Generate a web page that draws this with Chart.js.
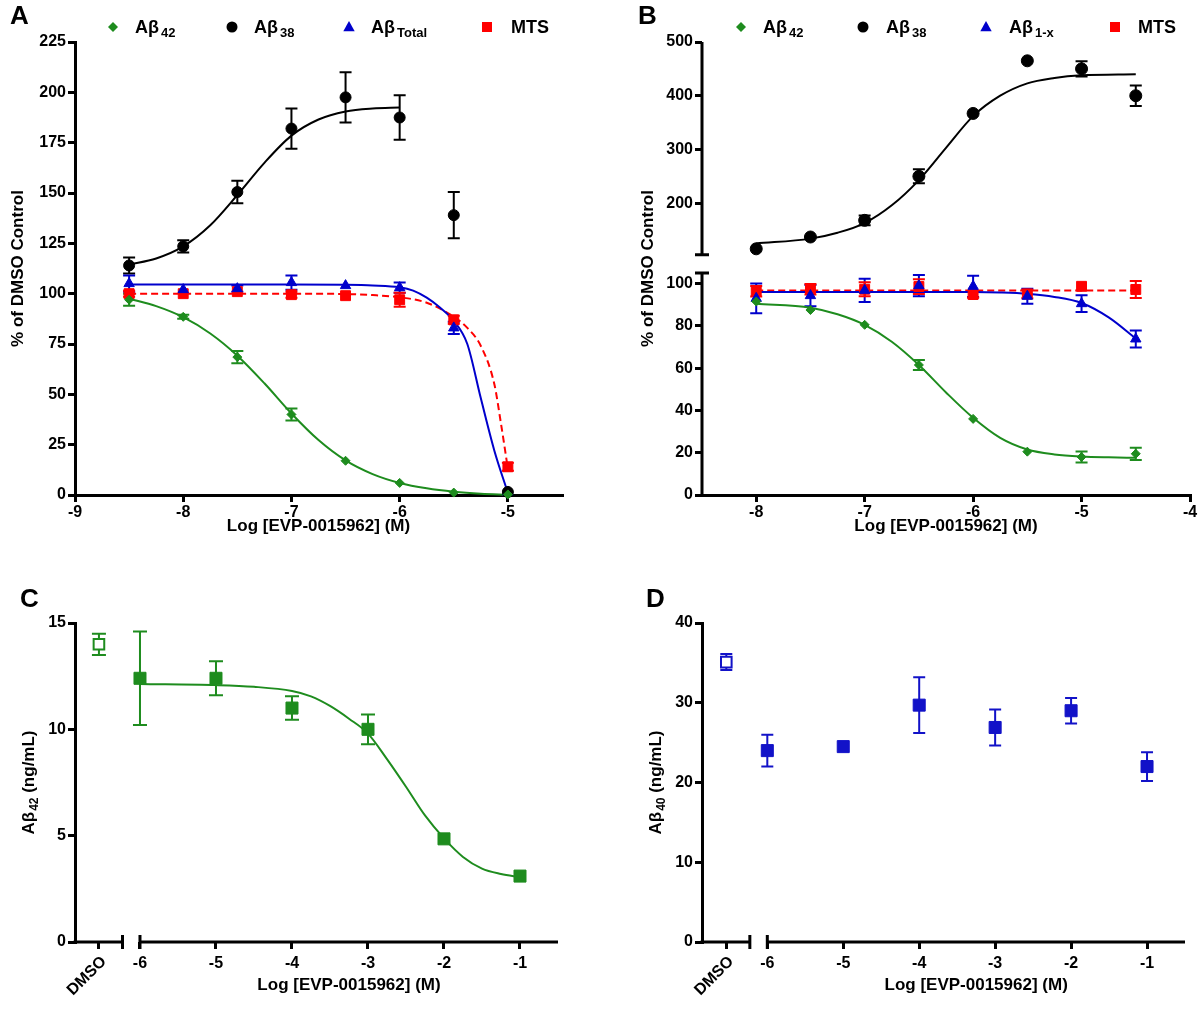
<!DOCTYPE html>
<html><head><meta charset="utf-8">
<script src="https://cdn.jsdelivr.net/npm/chart.js@4.4.1/dist/chart.umd.min.js"></script>
<style>
html,body{margin:0;padding:0;background:#fff;}
#wrap{position:relative;width:1200px;height:1011px;overflow:hidden;}
canvas{position:absolute;}
</style></head><body>
<div id="wrap">
<canvas id="cA" width="600" height="545" style="left:0;top:0"></canvas>
<canvas id="cB" width="600" height="545" style="left:600px;top:0"></canvas>
<canvas id="cC" width="600" height="451" style="left:0;top:560px"></canvas>
<canvas id="cD" width="600" height="451" style="left:600px;top:560px"></canvas>
</div>
<script>
// ---------------- DATA ----------------
// Panel A
const doseA   = [-8.5, -8, -7.5, -7, -6.5, -6, -5.5, -5];
const a42     = [97, 88.5, 68.5, 40, 17, 6, 1.2, 0.3];
const a42Err  = [3, 1, 3, 3, 0, 0, 0, 0];
const a38     = [114, 123.5, 150.5, 182, 197.5, 187.5, 139, 1.5];
const a38Err  = [4, 3, 5.6, 10, 12.5, 11, 11.5, 0];
const aTot    = [105, 102, 102.5, 105.5, 104, 103, 83, 1.5];
const aTotErr = [4, 0, 1.5, 3.5, 0, 2.5, 3, 0];
const aMts    = [100, 100, 101, 99.5, 99, 97, 87, 14];
const aMtsErr = [1.5, 0, 0, 1.5, 0, 3.5, 2, 2];
const fitA42X  = [-8.5, -8.25, -8, -7.75, -7.5, -7.25, -7, -6.75, -6.5, -6.25, -6, -5.75, -5.5, -5.25, -5];
const fitA42Y  = [97.5, 93.8, 88.3, 80.2, 69.2, 55.5, 40.5, 27.3, 17.2, 10.4, 6.0, 3.3, 1.6, 0.6, 0.1];
const fitA38X  = [-8.5, -8.25, -8, -7.75, -7.5, -7.25, -7, -6.75, -6.5, -6.25, -6];
const fitA38Y  = [114.5, 117.5, 123.5, 134, 149, 165, 178.5, 186.5, 190.5, 192, 192.5];
const fitATotX = [-8.5, -7, -6.5, -6.25, -6, -5.875, -5.75, -5.625, -5.5, -5.375, -5.25, -5.125, -5];
const fitATotY = [104.5, 104.5, 104.4, 104.1, 103.2, 101.5, 98, 93, 86.5, 75, 48, 22, 1];
const fitAMtsX = [-8.5, -7, -6.5, -6.25, -6, -5.75, -5.5, -5.375, -5.25, -5.125, -5.0625, -5];
const fitAMtsY = [100, 100, 99.8, 99.3, 98.2, 95.5, 88.5, 83, 74, 55, 35, 13];
const ticksAX = [-9, -8, -7, -6, -5];
const ticksAY = [0, 25, 50, 75, 100, 125, 150, 175, 200, 225];

// Panel B
const doseB   = [-8, -7.5, -7, -6.5, -6, -5.5, -5, -4.5];
const b42     = [91.5, 87.5, 80.5, 61.5, 36, 20.5, 18, 19.5];
const b42Err  = [0, 0, 0, 2.4, 0, 0, 2.6, 2.9];
const b38     = [115, 137, 168, 250, 367, 465, 450, 400];
const b38Err  = [0, 0, 9, 13, 0, 0, 14, 19];
const b1x     = [93, 94.3, 96.8, 99, 98.7, 94, 90.5, 73.8];
const b1xErr  = [7, 5, 5.5, 5, 5, 3.5, 4, 4];
const bMts    = [96.4, 97.3, 97.3, 98.6, 94.8, 95.1, 98.7, 97.2];
const bMtsErr = [2.5, 2.5, 3.3, 3.5, 1.5, 2, 0, 4];
const fitB42X  = [-8, -7.5, -7.25, -7, -6.75, -6.5, -6.25, -6, -5.75, -5.5, -5.25, -5, -4.75, -4.5];
const fitB42Y  = [90.5, 88.6, 85.5, 80.5, 72.5, 61.5, 48.5, 36.5, 27, 21.5, 19.2, 18.2, 17.8, 17.6];
const fitB38X  = [-8, -7.5, -7.25, -7, -6.75, -6.5, -6.25, -6, -5.75, -5.5, -5.25, -5, -4.5];
const fitB38Y  = [125, 134, 145, 163, 196, 243, 303, 362, 400, 423, 433, 438, 440];
const fitB1xX  = [-8, -6, -5.75, -5.5, -5.25, -5, -4.75, -4.5];
const fitB1xY  = [96, 96, 95.8, 95.2, 93.7, 90.8, 84, 74];
const fitBMtsX = [-8, -4.5];
const fitBMtsY = [96.7, 96.7];
const ticksBX  = [-8, -7, -6, -5, -4];
const ticksBYlow  = [0, 20, 40, 60, 80, 100];
const ticksBYhigh = [200, 300, 400, 500];

// Panel C
const doseC   = [-6, -5, -4, -3, -2, -1];
const c42     = [12.4, 12.4, 11.0, 10.0, 4.85, 3.1];
const c42Err  = [2.2, 0.8, 0.55, 0.7, 0, 0];
const cDmso   = [14.0];
const cDmsoErr= [0.5];
const fitC42X = [-6, -5, -4.5, -4, -3.75, -3.5, -3.25, -3, -2.75, -2.5, -2.25, -2, -1.75, -1.5, -1.25, -1];
const fitC42Y = [12.13, 12.08, 12.0, 11.8, 11.55, 11.1, 10.5, 9.8, 8.6, 7.3, 5.95, 4.87, 4.0, 3.45, 3.2, 3.05];
const ticksCY = [0, 5, 10, 15];

// Panel D
const doseD   = [-6, -5, -4, -3, -2, -1];
const d40     = [24, 24.5, 29.7, 26.9, 29, 22];
const d40Err  = [2, 0, 3.5, 2.25, 1.6, 1.8];
const dDmso   = [35.1];
const dDmsoErr= [1];
const ticksDY = [0, 10, 20, 30, 40];

const ticksCDX = [-6, -5, -4, -3, -2, -1];

// ---------------- LAYOUT / STYLE ----------------
const FAM = '"Liberation Sans", Arial, sans-serif';
const tickFont = {family: FAM, weight: 'bold', size: 16};
const GREEN = '#1e8c1e', BLUE = '#0000cc', RED = '#ff0000', BLACK = '#000000', DBLUE = '#1212c8';
const DMSO_POS = -6.54;   // layout position of the DMSO category on the broken x axis
const BREAK_L = -6.23, BREAK_R = -6.0;

function pts(xs, ys) { return xs.map((x, i) => ({x: x, y: ys[i]})); }
function fixedTicks(vals) { return function(axis) { axis.ticks = vals.map(v => ({value: v})); }; }
function fixW(w) { return function(axis) { axis.width = w; }; }
function fixH(h) { return function(axis) { axis.height = h; }; }

function markerDS(label, xs, ys, errs, color, style, r, extra) {
  return Object.assign({
    label: label, data: pts(xs, ys), errors: errs,
    pointStyle: style, pointRadius: r, pointHoverRadius: r,
    backgroundColor: color, borderColor: color, pointBorderWidth: 1,
    showLine: false, clip: false
  }, extra || {});
}
function curveDS(xs, ys, color, dash, yAxisID) {
  const d = {
    data: pts(xs, ys), showLine: true, pointRadius: 0, pointHoverRadius: 0,
    borderColor: color, backgroundColor: color, borderWidth: 2,
    cubicInterpolationMode: 'monotone', borderDash: dash || [], fill: false, clip: false
  };
  if (yAxisID) d.yAxisID = yAxisID;
  return d;
}

const errorBarPlugin = {
  id: 'errorBars',
  beforeDatasetsDraw(chart) {
    const ctx = chart.ctx;
    chart.data.datasets.forEach((ds, i) => {
      if (!ds.errors) return;
      const meta = chart.getDatasetMeta(i);
      const xs = chart.scales[meta.xAxisID], ys = chart.scales[meta.yAxisID];
      const cap = ds.capHalf || 6;
      ctx.save();
      ctx.strokeStyle = ds.borderColor;
      ctx.lineWidth = 2;
      ds.data.forEach((p, j) => {
        const e = ds.errors[j];
        if (!e) return;
        const x = xs.getPixelForValue(p.x);
        const y1 = ys.getPixelForValue(p.y + e), y2 = ys.getPixelForValue(p.y - e);
        ctx.beginPath();
        ctx.moveTo(x, y1); ctx.lineTo(x, y2);
        ctx.moveTo(x - cap, y1); ctx.lineTo(x + cap, y1);
        ctx.moveTo(x - cap, y2); ctx.lineTo(x + cap, y2);
        ctx.stroke();
      });
      ctx.restore();
    });
  }
};

function drawParts(ctx, parts, x, y, rot, center) {
  ctx.save();
  ctx.translate(x, y);
  if (rot) ctx.rotate(rot);
  ctx.fillStyle = '#000';
  ctx.textBaseline = 'alphabetic';
  ctx.textAlign = 'left';
  let w = 0;
  parts.forEach(p => { ctx.font = p.f; w += ctx.measureText(p.t).width + (p.gap || 0); });
  let cx = center ? -w / 2 : 0;
  parts.forEach(p => { ctx.font = p.f; cx += (p.gap || 0); ctx.fillText(p.t, cx, p.dy || 0); cx += ctx.measureText(p.t).width; });
  ctx.restore();
}
const F = (s) => 'bold ' + s + 'px ' + FAM;

function marker(ctx, type, x, y, color, r) {
  ctx.save();
  ctx.fillStyle = color; ctx.strokeStyle = color;
  ctx.beginPath();
  if (type === 'diamond') { ctx.moveTo(x, y - r); ctx.lineTo(x + r, y); ctx.lineTo(x, y + r); ctx.lineTo(x - r, y); ctx.closePath(); }
  else if (type === 'circle') { ctx.arc(x, y, r, 0, Math.PI * 2); }
  else if (type === 'triangle') { ctx.moveTo(x, y - r); ctx.lineTo(x + r * 0.95, y + r * 0.7); ctx.lineTo(x - r * 0.95, y + r * 0.7); ctx.closePath(); }
  else { ctx.rect(x - r, y - r, 2 * r, 2 * r); }
  ctx.fill();
  ctx.restore();
}
function legendItem(ctx, type, mx, color, r, tx, sub) {
  marker(ctx, type, mx, 27, color, r);
  const parts = [{t: 'A\u03B2', f: F(18)}, {t: sub, f: F(13), dy: 4, gap: 2}];
  drawParts(ctx, parts, tx, 33);
}
function legendPlain(ctx, type, mx, color, r, tx, label) {
  marker(ctx, type, mx, 27, color, r);
  drawParts(ctx, [{t: label, f: F(18)}], tx, 33);
}
function plainText(ctx, s, x, y, font, align, rot) {
  ctx.save();
  ctx.translate(x, y);
  if (rot) ctx.rotate(rot);
  ctx.font = font; ctx.fillStyle = '#000';
  ctx.textAlign = align || 'center'; ctx.textBaseline = 'middle';
  ctx.fillText(s, 0, 0);
  ctx.restore();
}

function yAxis(min, max, ticks, w, border, extra) {
  return Object.assign({
    type: 'linear', min: min, max: max,
    afterBuildTicks: fixedTicks(ticks), afterFit: fixW(w),
    border: {display: border, color: '#000', width: 3},
    grid: {drawOnChartArea: false, color: '#000', lineWidth: 3, tickLength: 7},
    ticks: {font: tickFont, color: '#000', padding: 2}
  }, extra || {});
}
function xAxis(min, max, ticks, h, border, pad, cb) {
  return {
    type: 'linear', min: min, max: max,
    afterBuildTicks: fixedTicks(ticks), afterFit: fixH(h),
    border: {display: border, color: '#000', width: 3},
    grid: {drawOnChartArea: false, color: '#000', lineWidth: 3, tickLength: 7},
    ticks: {font: tickFont, color: '#000', padding: pad, maxRotation: 0, autoSkip: false,
            callback: cb || function(v) { return String(v); }}
  };
}
const baseOpts = {
  responsive: false, animation: false, devicePixelRatio: 1,
  plugins: {legend: {display: false}, tooltip: {enabled: false}}
};

// ---------------- PANEL A ----------------
new Chart(document.getElementById('cA'), {
  type: 'scatter',
  data: {datasets: [
    markerDS('Aβ42', doseA, a42, a42Err, GREEN, 'rectRot', 4.5),
    markerDS('Aβ38', doseA, a38, a38Err, BLACK, 'circle', 5.5),
    markerDS('AβTotal', doseA, aTot, aTotErr, BLUE, 'triangle', 6),
    markerDS('MTS', doseA, aMts, aMtsErr, RED, 'rect', 7),
    curveDS(fitA42X, fitA42Y, GREEN),
    curveDS(fitA38X, fitA38Y, BLACK),
    curveDS(fitATotX, fitATotY, BLUE),
    curveDS(fitAMtsX, fitAMtsY, RED, [7, 4])
  ]},
  options: Object.assign({}, baseOpts, {
    layout: {padding: {left: 0, top: 42, right: 38, bottom: 10}},
    scales: {
      x: xAxis(-9, -4.5, ticksAX, 40, true, 1),
      y: yAxis(0, 225, ticksAY, 75, true)
    }
  }),
  plugins: [errorBarPlugin, {
    id: 'decorA',
    afterDraw(chart) {
      const ctx = chart.ctx;
      plainText(ctx, 'A', 10, 17, F(26), 'left');
      legendItem(ctx, 'diamond', 113, GREEN, 5, 135, '42');
      legendItem(ctx, 'circle', 232, BLACK, 5.5, 254, '38');
      legendItem(ctx, 'triangle', 349, BLUE, 6, 371, 'Total');
      legendPlain(ctx, 'square', 487, RED, 5, 511, 'MTS');
      const ca = chart.chartArea;
      plainText(ctx, 'Log [EVP-0015962] (M)', (ca.left + ca.right) / 2, 526, F(17));
      plainText(ctx, '% of DMSO Control', 18, (ca.top + ca.bottom) / 2, F(17), 'center', -Math.PI / 2);
    }
  }]
});

// ---------------- PANEL B ----------------
new Chart(document.getElementById('cB'), {
  type: 'scatter',
  data: {datasets: [
    markerDS('Aβ42', doseB, b42, b42Err, GREEN, 'rectRot', 4.5, {yAxisID: 'yBot'}),
    markerDS('Aβ38', doseB, b38, b38Err, BLACK, 'circle', 6, {yAxisID: 'yTop'}),
    markerDS('Aβ1-x', doseB, b1x, b1xErr, BLUE, 'triangle', 6, {yAxisID: 'yBot'}),
    markerDS('MTS', doseB, bMts, bMtsErr, RED, 'rect', 7, {yAxisID: 'yBot'}),
    curveDS(fitB42X, fitB42Y, GREEN, null, 'yBot'),
    curveDS(fitB38X, fitB38Y, BLACK, null, 'yTop'),
    curveDS(fitB1xX, fitB1xY, BLUE, null, 'yBot'),
    curveDS(fitBMtsX, fitBMtsY, RED, [7, 4], 'yBot')
  ]},
  options: Object.assign({}, baseOpts, {
    layout: {padding: {left: 0, top: 42, right: 10, bottom: 10}},
    scales: {
      x: xAxis(-8.5, -4, ticksBX, 40, true, 1),
      yBot: yAxis(0, 105, ticksBYlow, 102, false, {position: 'left', stack: 'B', stackWeight: 222}),
      yTop: yAxis(70, 500, ticksBYhigh, 102, false, {position: 'left', stack: 'B', stackWeight: 231})
    }
  }),
  plugins: [errorBarPlugin, {
    id: 'decorB',
    afterDraw(chart) {
      const ctx = chart.ctx;
      const ca = chart.chartArea;
      const yT = chart.scales.yTop, yB = chart.scales.yBot;
      const x = ca.left;
      ctx.save();
      ctx.strokeStyle = '#000'; ctx.lineWidth = 3;
      const t1 = yT.getPixelForValue(500), t2 = yT.getPixelForValue(104);
      const b1 = yB.getPixelForValue(105), b2 = yB.getPixelForValue(0);
      ctx.beginPath();
      ctx.moveTo(x, t1); ctx.lineTo(x, t2);
      ctx.moveTo(x - 7, t2); ctx.lineTo(x + 7, t2);
      ctx.moveTo(x, b1); ctx.lineTo(x, b2 + 1.5);
      ctx.moveTo(x - 7, b1); ctx.lineTo(x + 7, b1);
      ctx.stroke();
      ctx.restore();
      plainText(ctx, 'B', 38, 17, F(26), 'left');
      legendItem(ctx, 'diamond', 141, GREEN, 5, 163, '42');
      legendItem(ctx, 'circle', 263, BLACK, 5.5, 286, '38');
      legendItem(ctx, 'triangle', 386, BLUE, 6, 409, '1-x');
      legendPlain(ctx, 'square', 515, RED, 5, 538, 'MTS');
      plainText(ctx, 'Log [EVP-0015962] (M)', (ca.left + ca.right) / 2, 526, F(17));
      plainText(ctx, '% of DMSO Control', 48, (ca.top + ca.bottom) / 2, F(17), 'center', -Math.PI / 2);
    }
  }]
});

// ---------------- PANELS C & D ----------------
function brokenXPlugin(id, letter, ytitleSub, ytitleX) {
  return {
    id: id,
    afterDraw(chart) {
      const ctx = chart.ctx;
      const ca = chart.chartArea;
      const xs = chart.scales.x;
      const y = ca.bottom;
      const pL = xs.getPixelForValue(BREAK_L), pR = xs.getPixelForValue(BREAK_R);
      ctx.save();
      ctx.strokeStyle = '#000'; ctx.lineWidth = 3;
      ctx.beginPath();
      ctx.moveTo(ca.left - 1.5, y); ctx.lineTo(pL, y);
      ctx.moveTo(pL, y - 7); ctx.lineTo(pL, y + 7);
      ctx.moveTo(pR, y); ctx.lineTo(ca.right, y);
      ctx.moveTo(pR, y - 7); ctx.lineTo(pR, y + 7);
      ctx.stroke();
      ctx.restore();
      const dx = xs.getPixelForValue(DMSO_POS);
      plainText(ctx, 'DMSO', dx + 5, y + 17, F(16), 'right', -Math.PI / 4);
      plainText(ctx, letter, letter === 'C' ? 20 : 46, 40, F(26), 'left');
      plainText(ctx, 'Log [EVP-0015962] (M)', (pR + ca.right) / 2, 425, F(17));
      drawParts(ctx, [{t: 'A\u03B2', f: F(17)}, {t: ytitleSub, f: F(12), dy: 4, gap: 1}, {t: ' (ng/mL)', f: F(17)}],
                ytitleX, (ca.top + ca.bottom) / 2, -Math.PI / 2, true);
    }
  };
}
const xCB = function(v) { return v < -6.2 ? '' : String(v); };

new Chart(document.getElementById('cC'), {
  type: 'scatter',
  data: {datasets: [
    markerDS('DMSO', [DMSO_POS], cDmso, cDmsoErr, GREEN, 'rect', 7.5, {backgroundColor: '#fff', pointBorderWidth: 2, capHalf: 7}),
    markerDS('Aβ42', doseC, c42, c42Err, GREEN, 'rect', 8.5, {capHalf: 7}),
    curveDS(fitC42X, fitC42Y, GREEN)
  ]},
  options: Object.assign({}, baseOpts, {
    layout: {padding: {left: 0, top: 63, right: 42, bottom: 24}},
    scales: {
      x: xAxis(-6.855, -0.5, [DMSO_POS].concat(ticksCDX), 45, false, 5, xCB),
      y: yAxis(0, 15, ticksCY, 75, true)
    }
  }),
  plugins: [errorBarPlugin, brokenXPlugin('decorC', 'C', '42', 34)]
});

new Chart(document.getElementById('cD'), {
  type: 'scatter',
  data: {datasets: [
    markerDS('DMSO', [DMSO_POS], dDmso, dDmsoErr, DBLUE, 'rect', 7.5, {backgroundColor: '#fff', pointBorderWidth: 2, capHalf: 6}),
    markerDS('Aβ40', doseD, d40, d40Err, DBLUE, 'rect', 8.5, {capHalf: 6})
  ]},
  options: Object.assign({}, baseOpts, {
    layout: {padding: {left: 0, top: 63, right: 15, bottom: 24}},
    scales: {
      x: xAxis(-6.86, -0.5, [DMSO_POS].concat(ticksCDX), 45, false, 5, xCB),
      y: yAxis(0, 40, ticksDY, 102, true)
    }
  }),
  plugins: [errorBarPlugin, brokenXPlugin('decorD', 'D', '40', 61)]
});
</script>
</body></html>
